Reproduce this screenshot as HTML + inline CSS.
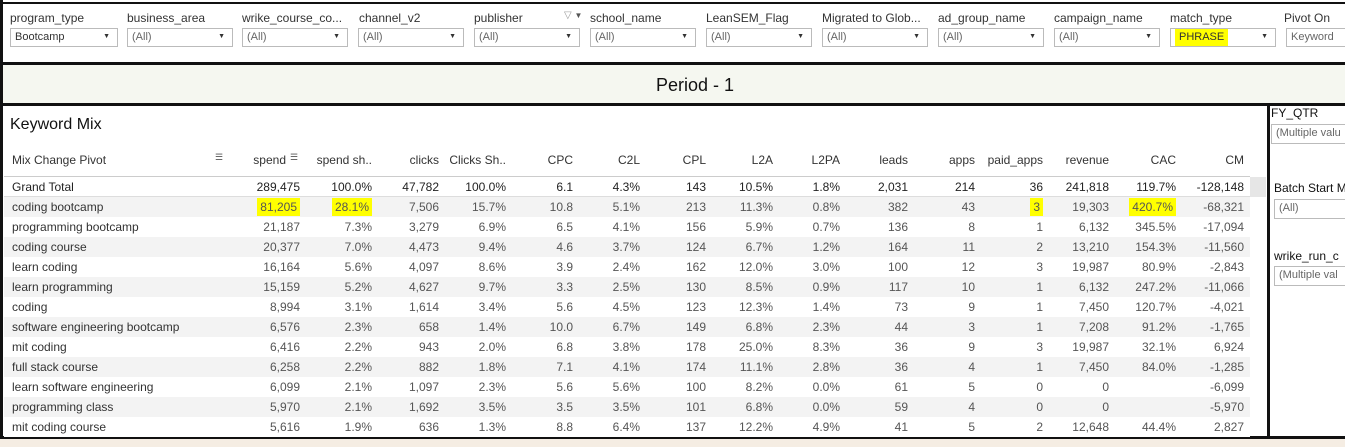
<!DOCTYPE html>
<html><head><style>
*{margin:0;padding:0;box-sizing:border-box}
body{width:1345px;height:447px;overflow:hidden;background:#fff;font-family:"Liberation Sans",sans-serif;position:relative;color:#333}
.a{position:absolute;white-space:nowrap}
.lbl{font-size:12px;color:#333;top:11px}
.dd{top:28px;height:19px;border:1px solid #bbb;background:#fff;font-size:11px;color:#666;padding:2px 0 0 4px}
.dd:after{content:"▼";position:absolute;right:7px;top:4px;font-size:7px;color:#333}
.dd.na:after{content:""}
.r{font-size:12px;text-align:right}
.row{position:absolute;left:4px;width:1246px;height:20px}
.hl{background:#ffff00}
</style></head><body>
<div class="a" style="left:0;top:2px;width:1345px;height:2px;background:#111"></div>
<div class="a" style="left:0;top:0;width:3px;height:439px;background:#111"></div>
<div class="a" style="left:0;top:62px;width:1345px;height:3px;background:#111"></div>
<div class="a" style="left:3px;top:65px;width:1342px;height:38px;background:#f5f7f0"></div>
<div class="a" style="left:0;top:103px;width:1345px;height:3px;background:#111"></div>
<div class="a" style="left:0;top:436px;width:1345px;height:3px;background:#111"></div>
<div class="a" style="left:0;top:439px;width:1345px;height:8px;background:#f5ede3"></div>
<div class="a" style="left:1267px;top:106px;width:3px;height:330px;background:#111"></div>
<div class="a" style="left:656px;top:75px;font-size:18px;color:#111">Period - 1</div>

<div class="a lbl" style="left:10px">program_type</div>
<div class="a lbl" style="left:127px">business_area</div>
<div class="a lbl" style="left:242px">wrike_course_co...</div>
<div class="a lbl" style="left:359px">channel_v2</div>
<div class="a lbl" style="left:474px">publisher</div>
<div class="a" style="left:564px;top:10px;font-size:10px;color:#999">▽ <span style="color:#555;font-size:8px">▼</span></div>
<div class="a lbl" style="left:590px">school_name</div>
<div class="a lbl" style="left:706px">LeanSEM_Flag</div>
<div class="a lbl" style="left:822px">Migrated to Glob...</div>
<div class="a lbl" style="left:938px">ad_group_name</div>
<div class="a lbl" style="left:1054px">campaign_name</div>
<div class="a lbl" style="left:1170px">match_type</div>
<div class="a lbl" style="left:1284px">Pivot On</div>

<div class="a dd" style="left:10px;width:108px;color:#333">Bootcamp</div>
<div class="a dd" style="left:127px;width:106px">(All)</div>
<div class="a dd" style="left:242px;width:106px">(All)</div>
<div class="a dd" style="left:358px;width:106px">(All)</div>
<div class="a dd" style="left:474px;width:106px">(All)</div>
<div class="a dd" style="left:590px;width:106px">(All)</div>
<div class="a dd" style="left:706px;width:106px">(All)</div>
<div class="a dd" style="left:822px;width:106px">(All)</div>
<div class="a dd" style="left:938px;width:106px">(All)</div>
<div class="a dd" style="left:1054px;width:106px">(All)</div>
<div class="a dd" style="left:1170px;width:106px;color:#333"><span class="hl" style="padding:2px 4px 3px 4px">PHRASE</span></div>
<div class="a dd na" style="left:1286px;width:70px">Keyword</div>

<div class="a" style="left:10px;top:116px;font-size:16px;color:#111">Keyword Mix</div>
<div class="a" style="left:1271px;top:106px;font-size:12px;color:#111">FY_QTR</div>
<div class="a dd na" style="left:1271px;top:124px;width:80px;height:20px">(Multiple valu</div>
<div class="a" style="left:1274px;top:181px;font-size:12px;color:#111">Batch Start M</div>
<div class="a dd na" style="left:1274px;top:199px;width:80px;height:20px">(All)</div>
<div class="a" style="left:1274px;top:249px;font-size:12px;color:#111">wrike_run_c</div>
<div class="a dd na" style="left:1274px;top:266px;width:80px;height:20px">(Multiple val</div>
<div class="a" style="left:1250px;top:177px;width:16px;height:20px;background:#e6e6e6"></div>

<div id="t"></div>
<script>
var R=[300,372,439,506,573,640,706,773,840,908,975,1043,1109,1176,1244];
var H=["spend","spend sh..","clicks","Clicks Sh..","CPC","C2L","CPL","L2A","L2PA","leads","apps","paid_apps","revenue","CAC","CM"];
var D=[
["Grand Total","289,475","100.0%","47,782","100.0%","6.1","4.3%","143","10.5%","1.8%","2,031","214","36","241,818","119.7%","-128,148"],
["coding bootcamp","81,205","28.1%","7,506","15.7%","10.8","5.1%","213","11.3%","0.8%","382","43","3","19,303","420.7%","-68,321"],
["programming bootcamp","21,187","7.3%","3,279","6.9%","6.5","4.1%","156","5.9%","0.7%","136","8","1","6,132","345.5%","-17,094"],
["coding course","20,377","7.0%","4,473","9.4%","4.6","3.7%","124","6.7%","1.2%","164","11","2","13,210","154.3%","-11,560"],
["learn coding","16,164","5.6%","4,097","8.6%","3.9","2.4%","162","12.0%","3.0%","100","12","3","19,987","80.9%","-2,843"],
["learn programming","15,159","5.2%","4,627","9.7%","3.3","2.5%","130","8.5%","0.9%","117","10","1","6,132","247.2%","-11,066"],
["coding","8,994","3.1%","1,614","3.4%","5.6","4.5%","123","12.3%","1.4%","73","9","1","7,450","120.7%","-4,021"],
["software engineering bootcamp","6,576","2.3%","658","1.4%","10.0","6.7%","149","6.8%","2.3%","44","3","1","7,208","91.2%","-1,765"],
["mit coding","6,416","2.2%","943","2.0%","6.8","3.8%","178","25.0%","8.3%","36","9","3","19,987","32.1%","6,924"],
["full stack course","6,258","2.2%","882","1.8%","7.1","4.1%","174","11.1%","2.8%","36","4","1","7,450","84.0%","-1,285"],
["learn software engineering","6,099","2.1%","1,097","2.3%","5.6","5.6%","100","8.2%","0.0%","61","5","0","0","","-6,099"],
["programming class","5,970","2.1%","1,692","3.5%","3.5","3.5%","101","6.8%","0.0%","59","4","0","0","","-5,970"],
["mit coding course","5,616","1.9%","636","1.3%","8.8","6.4%","137","12.2%","4.9%","41","5","2","12,648","44.4%","2,827"]];
var h='';
h+='<div class="a" style="left:12px;top:153px;font-size:12px;color:#333">Mix Change Pivot</div>';
h+='<div class="a" style="left:215px;top:152px;font-size:9px;color:#555">☰</div>';
for(var i=0;i<15;i++){var w=60;h+='<div class="a r" style="left:'+(R[i]-w-(i==0?14:0))+'px;width:'+w+'px;top:153px;color:#333">'+H[i]+'</div>';}
h+='<div class="a" style="left:290px;top:152px;font-size:9px;color:#555">☰</div>';
h+='<div class="a" style="left:4px;top:176px;width:1246px;height:1px;background:#ccc"></div>';
for(var j=0;j<D.length;j++){var y=177+j*20;
 var bg=(j%2==1)?'#f3f3f3':'#fff';
 h+='<div class="row" style="top:'+y+'px;background:'+bg+'"></div>';
 var col=j==0?'#222':'#555';
 h+='<div class="a" style="left:12px;top:'+(y+3)+'px;font-size:12px;color:'+(j==0?'#222':'#333')+'">'+D[j][0]+'</div>';
 for(var i=0;i<15;i++){var v=D[j][i+1];
  var hl=(j==1&&(i==0||i==1||i==11||i==13));
  var s=hl?'<span class="hl" style="padding:2px 3px">'+v+'</span>':v;
  h+='<div class="a r" style="left:'+(R[i]-80)+'px;width:80px;top:'+(y+3)+'px;color:'+col+'">'+s+'</div>';}
 if(j==0)h+='<div class="a" style="left:4px;top:'+(y+19)+'px;width:1246px;height:1px;background:#ddd"></div>';
}
document.getElementById('t').innerHTML=h;
</script>
</body></html>
